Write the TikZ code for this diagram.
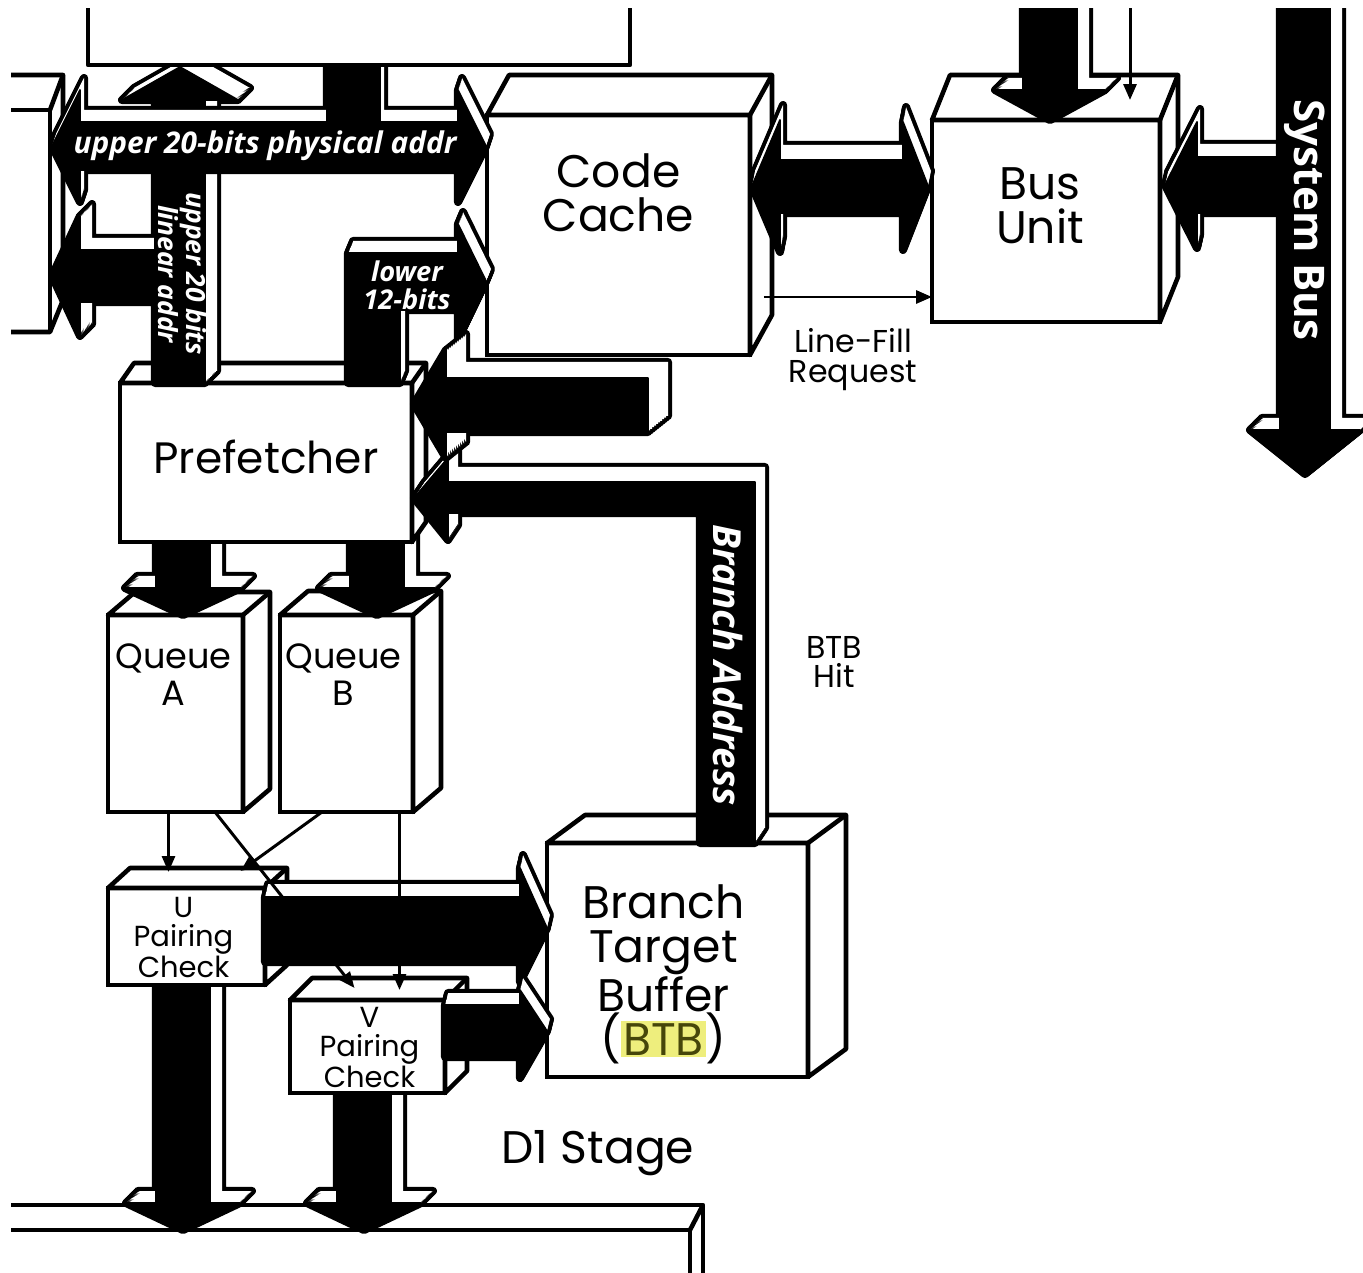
\documentclass[tikz,border=0pt]{standalone}
\usepackage{fontspec}
\setmainfont{Poppins}
\newfontfamily\tagfont{Open Sans}
\usetikzlibrary{calc, arrows.meta}
\definecolor{hilite}{RGB}{238, 238, 125}
\definecolor{btbtext}{RGB}{70, 70, 10}
\setlength{\fboxsep}{1pt}

% top and right face of a box node
\newcommand*{\boxfaces}[3]{%
  \filldraw[face] (#1.north west) -- ++(#2,#3) -- ($(#1.north east)+(#2,#3)$)
    -- ($(#1.south east)+(#2,#3)$) -- (#1.south east) -- (#1.north east) -- cycle;
  \draw[face] (#1.north east) -- ++(#2,#3);
}
% extruded fat arrow: depth right, depth up, outline
\newcommand*{\fatbus}[3]{%
  \foreach \t in {0,...,10} {
    \draw[busedge, shift={(\t*#1/10,-\t*#2/10)}] #3 -- cycle;
  }
  \foreach \t in {0,...,10} {
    \fill[white, shift={(\t*#1/10,-\t*#2/10)}] #3 -- cycle;
  }
  \filldraw[bus] #3 -- cycle;
}

\begin{document}
\begin{tikzpicture}[
   x=0.02cm, y=-0.02cm,
   box/.style={rectangle, draw=black, fill=white, line width=2.6pt,
               outer sep=0pt, inner sep=0pt},
   face/.style={draw=black, fill=white, line width=2.6pt, line join=round},
   busedge/.style={draw=black, line width=4.6pt, line join=round},
   bus/.style={fill=black, draw=black, line width=1pt, line join=round},
   wire/.style={draw=black, line width=1.7pt,
                -{Triangle[length=0.32cm, width=0.26cm]}},
   lbl/.style={align=center, inner sep=0pt, font=\fontsize{26}{25}\selectfont},
   qlbl/.style={lbl, font=\fontsize{20}{21}\selectfont},
   plbl/.style={lbl, font=\fontsize{16.5}{16.5}\selectfont},
   sidelbl/.style={lbl, font=\fontsize{18}{17}\selectfont},
   tag/.style={align=center, text=white, inner sep=0pt,
               font=\tagfont\bfseries\itshape\fontsize{17}{16}\selectfont}
  ]

  \useasboundingbox (0,0) rectangle (1363,1273);
  \clip (11,9) rectangle (1363,1273);

  % boxes cut off at the edges
  \filldraw[face] (-20,110) -- (-7,75) -- (63,75) -- (63,300) -- (50,332) -- (-20,332) -- cycle;
  \draw[face] (-20,110) -- (50,110) -- (50,332);
  \draw[face] (50,110) -- (63,75);
  \filldraw[face] (-20,1205) -- (703,1205) -- (703,1290) -- (690,1290) -- (690,1230) -- (-20,1230) -- cycle;
  \draw[face] (690,1230) -- (703,1205);

  % queues
  \node[box, minimum width=2.7cm, minimum height=3.94cm] (qa) at (175.5,713.5) {};
  \boxfaces{qa}{27}{-23}
  \node[qlbl] (qatext) at ($(qa.north)+(-2,60)$) {Queue\\A};
  \node[box, minimum width=2.66cm, minimum height=3.94cm] (qb) at (346.5,713.5) {};
  \boxfaces{qb}{28}{-24}
  \node[qlbl] (qbtext) at ($(qb.north)+(-3,60)$) {Queue\\B};

  \foreach \qx in {183,377} {
    \fatbus{12}{12}{(\qx-27,542) -- (\qx+27,542) -- (\qx+27,588) -- (\qx+58,588)
      -- (\qx,615) -- (\qx-58,588) -- (\qx-27,588)}
  }

  \node[box, minimum width=5.84cm, minimum height=3.18cm] (pf) at (266,462.5) {};
  \boxfaces{pf}{14}{-20}
  \node[lbl, font=\fontsize{25}{25}\selectfont] (pftext) at ($(pf.center)+(0,-6)$) {Prefetcher};

  \node[box, minimum width=5.26cm, minimum height=4.8cm] (cc) at (618.5,235) {};
  \boxfaces{cc}{22}{-40}
  \node[lbl] (cctext) at ($(cc.north)+(0,78)$) {Code\\Cache};

  \node[box, minimum width=4.56cm, minimum height=4.04cm] (bu) at (1046,221) {};
  \boxfaces{bu}{18}{-45}
  \node[lbl] (butext) at ($(bu.north)+(-6,86)$) {Bus\\Unit};

  \node[box, minimum width=5.22cm, minimum height=4.68cm] (btb) at (677.5,960) {};
  \boxfaces{btb}{38}{-28}
  \node[lbl] (btbtext) at ($(btb.center)+(-14,14)$)
    {Branch\\Target\\Buffer\\(\colorbox{hilite}{\color{btbtext}BTB})};

  % pairing checks down to the bus below
  \foreach \bx/\by in {183/985, 364/1093} {
    \fatbus{12}{12}{(\bx-27,\by) -- (\bx+27,\by) -- (\bx+27,1203) -- (\bx+57,1203)
      -- (\bx,1230) -- (\bx-57,1203) -- (\bx-27,1203)}
  }

  \node[box, minimum width=3.14cm, minimum height=1.94cm] (up) at (186.5,936.5) {};
  \boxfaces{up}{22}{-20}
  \node[plbl] (uptext) at ($(up.center)+(-3,1)$) {U\\Pairing\\Check};
  \node[box, minimum width=3.1cm, minimum height=1.86cm] (vp) at (367.5,1046.5) {};
  \boxfaces{vp}{22}{-22}
  \node[plbl] (vptext) at ($(vp.center)+(2,1)$) {V\\Pairing\\Check};

  \fatbus{3}{13}{(265,897) -- (520,897) -- (520,868) -- (547,928) -- (520,982)
    -- (520,962) -- (265,962)}
  \fatbus{3}{12}{(445,1005) -- (520,1005) -- (520,990) -- (547,1031) -- (520,1078)
    -- (520,1057) -- (445,1057)}

  % linear address, behind the physical address
  \fatbus{12}{12}{(52,276) -- (80,216) -- (80,250) -- (155,250) -- (155,100) -- (122,100)
    -- (180,67) -- (238,100) -- (205,100) -- (205,383) -- (155,383) -- (155,302)
    -- (80,302) -- (80,336)}
  \fatbus{4}{12}{(52,146) -- (80,90) -- (80,122) -- (327,122) -- (327,30) -- (380,30)
    -- (380,122) -- (458,122) -- (458,90) -- (486,146) -- (458,202) -- (458,170)
    -- (80,170) -- (80,202)}
  \filldraw[face] (88,-20) rectangle (630,65);

  \fatbus{5}{12}{(348,383) -- (348,253) -- (458,253) -- (458,224) -- (486,281)
    -- (458,339) -- (458,310) -- (400,310) -- (400,383)}

  \fatbus{10}{15}{(414,498) -- (448,458) -- (448,482) -- (755,482) -- (755,843)
    -- (700,843) -- (700,513) -- (448,513) -- (448,540)}
  \fatbus{20}{16}{(414,404) -- (446,350) -- (446,378) -- (648,378) -- (648,432)
    -- (446,432) -- (446,458)}

  \fatbus{3}{15}{(752,186) -- (780,120) -- (780,160) -- (903,160) -- (903,122)
    -- (928,186) -- (903,250) -- (903,213) -- (780,213) -- (780,252)}
  \fatbus{3}{13}{(1165,185) -- (1197,122) -- (1197,157) -- (1290,157) -- (1290,213)
    -- (1197,213) -- (1197,248)}
  \fatbus{12}{12}{(1280,-20) -- (1330,-20) -- (1330,430) -- (1360,430) -- (1305,474)
    -- (1250,430) -- (1280,430)}
  \fatbus{12}{12}{(1023,-20) -- (1077,-20) -- (1077,90) -- (1105,90) -- (1050,120)
    -- (995,90) -- (1023,90)}

  % texts on the buses
  \node[tag] (phys) at (265,146) {upper 20-bits physical addr};
  \node[tag, rotate=-90, font=\tagfont\bfseries\itshape\fontsize{15}{13}\selectfont]
    (lin) at (182,274) {upper 20 bits\\linear addr};
  \node[tag, font=\tagfont\bfseries\itshape\fontsize{15.5}{16}\selectfont]
    (low) at (407,285) {lower\\12-bits};
  \node[tag, rotate=-90, font=\tagfont\bfseries\itshape\fontsize{22}{22}\selectfont]
    (branch) at (728,665) {Branch Address};
  \node[tag, rotate=-90, font=\tagfont\bfseries\fontsize{24}{24}\selectfont]
    (sysbus) at (1305,220) {System Bus};

  % thin connectors
  \coordinate (feed) at (1130,0);
  \draw[wire] (feed) -- ($(bu.north)+(84,-20)$);
  \draw[wire] ($(cc.east)+(14,62)$) -- ($(bu.west)+(0,76)$);
  \draw[wire] ($(qa.south)+(-7,0)$) -- ($(up.north)+(-18,-16)$);
  \draw[wire] ($(qa.south east)+(-28,0)$) -- ($(vp.north)+(-13,-12)$);
  \draw[wire] ($(qb.south west)+(42,0)$) -- ($(up.north)+(54,-17)$);
  \draw[wire] ($(qb.south)+(53,0)$) -- ($(vp.north)+(32,-10)$);

  \node[sidelbl] (lfr) at (853,360) {Line-Fill\\Request};
  \node[sidelbl] (hit) at (834,662) {BTB\\Hit};
  \node[lbl] (stage) at (598,1153) {D1 Stage};

\end{tikzpicture}
\end{document}
